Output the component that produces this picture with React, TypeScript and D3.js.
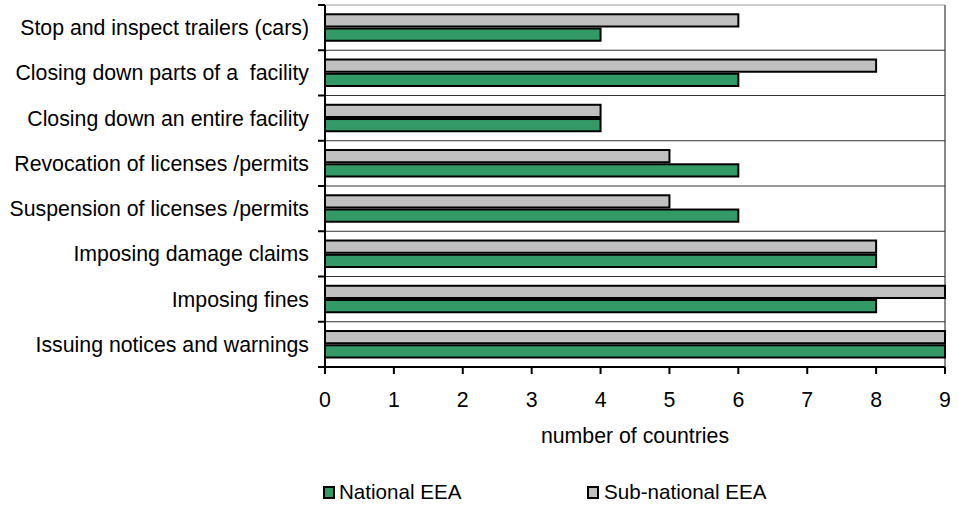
import React from "react";
import * as d3 from "d3";

const categories = [
  "Stop and inspect trailers (cars)",
  "Closing down parts of a  facility",
  "Closing down an entire facility",
  "Revocation of licenses /permits",
  "Suspension of licenses /permits",
  "Imposing damage claims",
  "Imposing fines",
  "Issuing notices and warnings",
];
const subNational = [6, 8, 4, 5, 5, 8, 9, 9];
const national = [4, 6, 4, 6, 6, 8, 8, 9];
const xTicks = [0, 1, 2, 3, 4, 5, 6, 7, 8, 9];
const seriesNames = ["National EEA", "Sub-national EEA"];

const GREEN = "#339966";
const GREY = "#C0C0C0";

export default function App() {
  const W = 959, H = 506;
  const left = 325, right = 945, top = 5, bottom = 367;
  const x = d3.scaleLinear().domain([0, 9]).range([left, right]);
  const y = d3.scaleBand<string>().domain(categories).range([top, bottom]);
  const bw = y.bandwidth();
  const font = "Arial, 'Liberation Sans', sans-serif";
  const fs = 21.3;
  return (
    <svg width={W} height={H} style={{ position: "absolute", left: 0, top: 0 }} fontFamily={font}>
      <rect x={0} y={0} width={W} height={H} fill="white" />
      {/* plot frame */}
      <line x1={left} x2={right} y1={top} y2={top} stroke="#999" strokeWidth={1} />
      <line x1={right} x2={right} y1={top} y2={bottom} stroke="#888" strokeWidth={2} />
      {/* gridlines */}
      {categories.slice(1).map((c) => (
        <line key={c} x1={left} x2={right} y1={y(c)!} y2={y(c)!} stroke="#333" strokeWidth={1} />
      ))}
      {/* bars */}
      {categories.map((c, i) => {
        const y0 = y(c)!;
        return (
          <g key={c}>
            <rect x={x(0)} y={y0 + bw * 0.205} width={x(subNational[i]) - x(0)} height={bw * 0.27}
              fill={GREY} stroke="#000" strokeWidth={2} />
            <rect x={x(0)} y={y0 + bw * 0.52} width={x(national[i]) - x(0)} height={bw * 0.27}
              fill={GREEN} stroke="#000" strokeWidth={2} />
          </g>
        );
      })}
      {/* y axis */}
      <line x1={left} x2={left} y1={top} y2={bottom} stroke="#000" strokeWidth={2} />
      {[...categories.map((c) => y(c)!), bottom].map((v, i) => (
        <line key={i} x1={left - 7} x2={left} y1={v} y2={v} stroke="#000" strokeWidth={2} />
      ))}
      {categories.map((c) => (
        <text key={c} x={309} y={y(c)! + bw / 2} dy="0.35em" textAnchor="end" fontSize={fs} fill="#000"
          style={{ whiteSpace: "pre" }}>
          {c}
        </text>
      ))}
      {/* x axis */}
      <line x1={left} x2={right} y1={bottom} y2={bottom} stroke="#000" strokeWidth={2} />
      {xTicks.map((t) => (
        <g key={t}>
          <line x1={x(t)} x2={x(t)} y1={bottom} y2={bottom + 7} stroke="#000" strokeWidth={2} />
          <text x={x(t)} y={407} textAnchor="middle" fontSize={fs} fill="#000">{t}</text>
        </g>
      ))}
      <text x={x(4.5)} y={443} textAnchor="middle" fontSize={fs} fill="#000">number of countries</text>
      {/* legend */}
      <rect x={324} y={487} width={10} height={11} fill={GREEN} stroke="#000" strokeWidth={2} />
      <text x={339} y={499} fontSize={20.6} fill="#000">{seriesNames[0]}</text>
      <rect x={588} y={487} width={10} height={11} fill={GREY} stroke="#000" strokeWidth={2} />
      <text x={604} y={499} fontSize={20.6} fill="#000">{seriesNames[1]}</text>
    </svg>
  );
}
